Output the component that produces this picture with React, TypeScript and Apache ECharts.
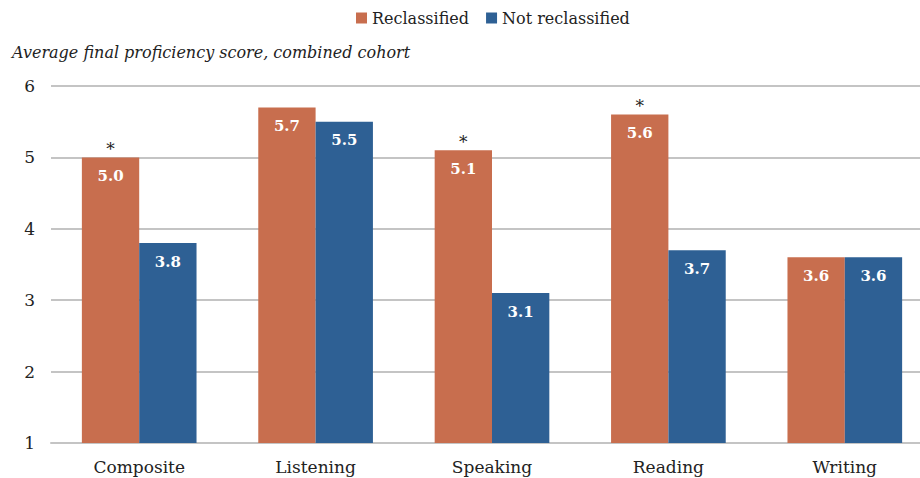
import React, { useEffect, useRef } from "react";
import * as echarts from "echarts";

const categories = ["Composite", "Listening", "Speaking", "Reading", "Writing"];
const reclassified = [5.0, 5.7, 5.1, 5.6, 3.6];
const notReclassified = [3.8, 5.5, 3.1, 3.7, 3.6];
const starred = ["Composite", "Speaking", "Reading"];
const seriesNames = ["Reclassified", "Not reclassified"];
const yTitle = "Average final proficiency score, combined cohort";

const FONT = "DejaVu Serif";
const ORANGE = "#C86E4E";
const BLUE = "#2E6094";

export default function App() {
  const ref = useRef<HTMLDivElement>(null);
  useEffect(() => {
    document.body.style.margin = "0";
    if (!ref.current) return;
    const chart = echarts.init(ref.current, undefined, { renderer: "svg" });
    const starPoints = starred.map((c) => {
      const i = categories.indexOf(c);
      return { coord: [c, reclassified[i]], value: "*" };
    });
    const valueLabel = {
      show: true,
      position: "insideTop",
      distance: 11,
      color: "#fff",
      fontFamily: FONT,
      fontSize: 15,
      fontWeight: "bold",
      formatter: (p: any) => p.value.toFixed(1),
    };
    chart.setOption({
      animation: false,
      textStyle: { fontFamily: FONT },
      legend: {
        top: 5,
        left: 351,
        itemWidth: 11,
        itemHeight: 11,
        itemGap: 17,
        icon: "rect",
        textStyle: { fontFamily: FONT, fontSize: 16, color: "#222" },
        data: seriesNames,
      },
      graphic: [
        {
          type: "text",
          left: 12,
          top: 44,
          style: {
            text: yTitle,
            font: `italic 16px "${FONT}"`,
            fill: "#222",
          },
        },
      ],
      grid: { left: 51, top: 86, width: 882, bottom: 35, containLabel: false },
      xAxis: {
        type: "category",
        data: categories,
        axisLine: { show: true, lineStyle: { color: "#c4c4c4", width: 2 } },
        axisTick: { show: false },
        axisLabel: { fontFamily: FONT, fontSize: 17, color: "#222", margin: 15 },
      },
      yAxis: {
        type: "value",
        min: 1,
        max: 6,
        interval: 1,
        axisLine: { show: false },
        axisTick: { show: false },
        axisLabel: { fontFamily: FONT, fontSize: 17, color: "#222", margin: 16 },
        splitLine: { lineStyle: { color: "#c4c4c4", width: 2 } },
      },
      series: [
        {
          name: seriesNames[0],
          type: "bar",
          data: reclassified,
          barGap: "0%",
          barCategoryGap: "35%",
          itemStyle: { color: ORANGE },
          label: valueLabel,
          markPoint: {
            symbol: "circle",
            symbolSize: 0,
            data: starPoints,
            label: {
              show: true,
              position: "top",
              distance: 0,
              formatter: "*",
              color: "#222",
              fontFamily: FONT,
              fontSize: 17,
            },
          },
        },
        {
          name: seriesNames[1],
          type: "bar",
          data: notReclassified,
          barGap: "0%",
          barCategoryGap: "35%",
          itemStyle: { color: BLUE },
          label: valueLabel,
        },
      ],
    });
    return () => chart.dispose();
  }, []);
  return (
    <div style={{ width: 920, height: 478, overflow: "hidden" }}>
      <div ref={ref} style={{ width: 940, height: 478 }} />
    </div>
  );
}
